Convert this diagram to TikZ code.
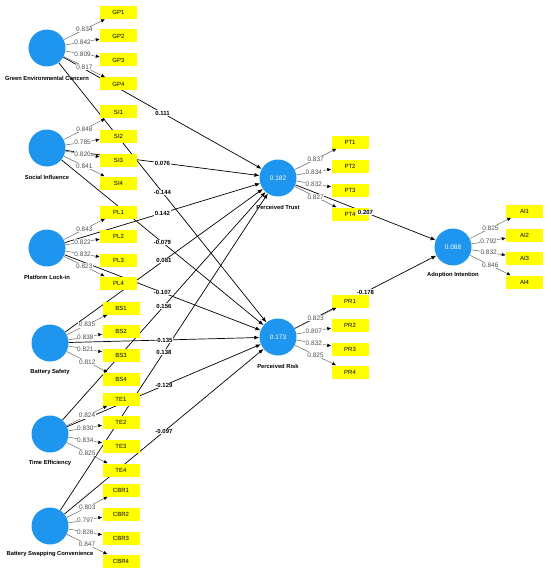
\documentclass[tikz,border=0pt]{standalone}
\usepackage{fontspec}
\setmainfont{Liberation Sans}
\usetikzlibrary{arrows.meta, positioning, backgrounds}
\definecolor{lvblue}{RGB}{30, 150, 240}
\definecolor{mvyellow}{RGB}{255, 255, 0}
\definecolor{loadgray}{RGB}{80, 80, 80}
\tikzset{
  latent/.style={circle, fill=lvblue, minimum size=37pt, inner sep=0pt,
                 text=white, font=\fontsize{6.5}{7}\selectfont},
  lvname/.style={font=\fontsize{5.8}{7}\selectfont\bfseries, inner sep=0.5pt},
  indbox/.style={rectangle, fill=mvyellow, minimum width=37pt, minimum height=13pt,
                 inner sep=0pt, font=\fontsize{6}{6}\selectfont},
  loadarrow/.style={-{Latex[length=4pt, width=3.5pt, color=black]},
                    draw=black!60, line width=0.5pt},
  pathedge/.style={-{Latex[length=5pt, width=4pt]}, line width=0.7pt},
  loadlbl/.style={fill=white, inner sep=0.6pt, text=loadgray,
                  font=\fontsize{6.5}{7}\selectfont},
  pathlbl/.style={fill=white, inner sep=0.6pt, font=\fontsize{6}{7}\selectfont\bfseries},
}

\begin{document}
\begin{tikzpicture}[x=1pt, y=-1pt]
  \useasboundingbox (0,0) rectangle (550,575);

  % latent variables
  \node[latent] (gec) at (47,48) {};
  \node[latent] (si) at (47,148) {};
  \node[latent] (pl) at (47,248) {};
  \node[latent] (bs) at (50,343) {};
  \node[latent] (te) at (50,434) {};
  \node[latent] (bsc) at (50,526) {};
  \node[latent] (pt) at (278,178) {0.182};
  \node[latent] (pr) at (278,337) {0.173};
  \node[latent] (ai) at (453,247) {0.088};

  \node[lvname] (gecname) at (47,78) {Green Environmental Concern};
  \node[lvname] (siname) at (47,177) {Social Influence};
  \node[lvname] (plname) at (47,277) {Platform Lock-in};
  \node[lvname] (bsname) at (50,372) {Battery Safety};
  \node[lvname] (tename) at (50,463) {Time Efficiency};
  \node[lvname] (bscname) at (50,554) {Battery Swapping Convenience};
  \node[lvname] (ptname) at (278,207) {Perceived Trust};
  \node[lvname] (prname) at (278,366) {Perceived Risk};
  \node[lvname] (ainame) at (453,275) {Adoption Intention};

  % indicators and loadings
  \foreach \i/\y/\v in {1/12.5/0.834, 2/36/0.842, 3/60/0.809, 4/84/0.817} {
    \node[indbox] (gp\i) at (118.5,\y) {GP\i};
    \draw[loadarrow] (gec) -- node[loadlbl] {\v} (gp\i);
  }
  \foreach \i/\y/\v in {1/112/0.848, 2/136.5/0.785, 3/160/0.820, 4/183/0.841} {
    \node[indbox] (si\i) at (118.5,\y) {SI\i};
    \draw[loadarrow] (si) -- node[loadlbl] {\v} (si\i);
  }
  \foreach \i/\y/\v in {1/212/0.843, 2/236/0.822, 3/260/0.832, 4/283/0.823} {
    \node[indbox] (pl\i) at (118.5,\y) {PL\i};
    \draw[loadarrow] (pl) -- node[loadlbl] {\v} (pl\i);
  }
  \foreach \i/\y/\v in {1/308/0.835, 2/331/0.838, 3/355/0.821, 4/379/0.812} {
    \node[indbox] (bs\i) at (121,\y) {BS\i};
    \draw[loadarrow] (bs) -- node[loadlbl] {\v} (bs\i);
  }
  \foreach \i/\y/\v in {1/399/0.824, 2/422/0.830, 3/446/0.834, 4/470/0.825} {
    \node[indbox] (te\i) at (121,\y) {TE\i};
    \draw[loadarrow] (te) -- node[loadlbl] {\v} (te\i);
  }
  \foreach \i/\y/\v in {1/490/0.803, 2/514/0.797, 3/538/0.826, 4/561/0.847} {
    \node[indbox] (cbr\i) at (121,\y) {CBR\i};
    \draw[loadarrow] (bsc) -- node[loadlbl] {\v} (cbr\i);
  }
  \foreach \i/\y/\v in {1/142/0.837, 2/166/0.834, 3/190/0.832, 4/214/0.827} {
    \node[indbox] (pt\i) at (350,\y) {PT\i};
    \draw[loadarrow] (pt) -- node[loadlbl] {\v} (pt\i);
  }
  \foreach \i/\y/\v in {1/301/0.823, 2/325/0.807, 3/349/0.832, 4/372/0.825} {
    \node[indbox] (pr\i) at (350,\y) {PR\i};
    \draw[loadarrow] (pr) -- node[loadlbl] {\v} (pr\i);
  }
  \foreach \i/\y/\v in {1/211/0.825, 2/235/0.792, 3/258/0.832, 4/282/0.846} {
    \node[indbox] (ai\i) at (524.5,\y) {AI\i};
    \draw[loadarrow] (ai) -- node[loadlbl] {\v} (ai\i);
  }

  % structural paths (lines behind the boxes, coefficients on top)
  \foreach \a/\b/\v in {gec/pt/0.111, gec/pr/-0.144, si/pt/0.076, si/pr/-0.079,
                        pl/pt/0.142, pl/pr/-0.107, bs/pt/0.081, bs/pr/-0.135,
                        te/pt/0.156, te/pr/-0.129, bsc/pt/0.138, bsc/pr/-0.097,
                        pt/ai/0.207, pr/ai/-0.178} {
    \begin{scope}[on background layer]
      \draw[pathedge] (\a) -- (\b);
    \end{scope}
    \path (\a) -- node[pathlbl] {\v} (\b);
  }
\end{tikzpicture}
\end{document}
